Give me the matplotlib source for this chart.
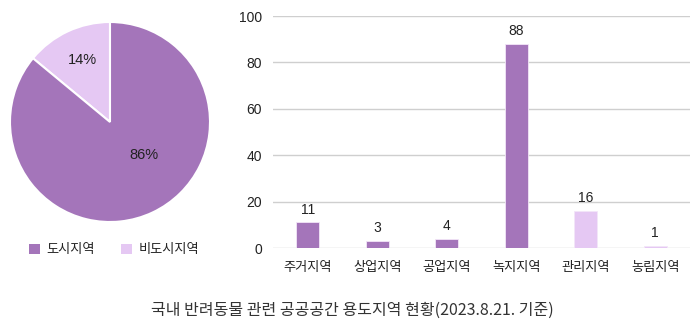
import matplotlib.pyplot as plt
from matplotlib.patches import Patch

plt.rcParams['font.family'] = ['Noto Sans CJK KR', 'DejaVu Sans']
num_font = ['Liberation Sans', 'DejaVu Sans']

# 용도지역별 공공공간 수
zones = ['주거지역', '상업지역', '공업지역', '녹지지역', '관리지역', '농림지역']
counts = [11, 3, 4, 88, 16, 1]
is_urban = [True, True, True, True, False, False]

pie_labels = ['비도시지역', '도시지역']
pie_share = [14, 86]

dark = '#A475BA'
light = '#E5C8F3'
text_color = '#222222'

fig = plt.figure(figsize=(7, 3.33), dpi=100)

# pie
ax_pie = fig.add_axes([10 / 700, 1 - 222 / 333, 200 / 700, 200 / 333])
ax_pie.pie(pie_share, colors=[light, dark], startangle=90, counterclock=True,
           wedgeprops=dict(edgecolor='white', linewidth=1.5))
ax_pie.set_xlim(-1, 1)
ax_pie.set_ylim(-1, 1)
ax_pie.set_aspect('equal')
ax_pie.text(-0.28, 0.62, f'{pie_share[0]}%', ha='center', va='center',
            fontsize=10.5, color=text_color, family=num_font)
ax_pie.text(0.34, -0.33, f'{pie_share[1]}%', ha='center', va='center',
            fontsize=10.5, color=text_color, family=num_font)

handles = [Patch(facecolor=dark, label=pie_labels[1]),
           Patch(facecolor=light, label=pie_labels[0])]
fig.legend(handles=handles, loc='center', bbox_to_anchor=(114 / 700, 1 - 250 / 333),
           ncol=2, frameon=False, fontsize=9.5, handlelength=0.8, handleheight=0.8,
           handletextpad=0.5, columnspacing=2.0, labelcolor=text_color)

# bars
ax = fig.add_axes([273 / 700, 1 - 248 / 333, 417 / 700, 232 / 333])
colors = [dark if u else light for u in is_urban]
bars = ax.bar(range(len(zones)), counts, width=0.33, color=colors,
              edgecolor='#F3E6F8', linewidth=0.6, zorder=3)
labels = ax.bar_label(bars, padding=4, fontsize=10, color=text_color)
for t in labels:
    t.set_family(num_font)
ax.set_xlim(-0.5, len(zones) - 0.5)
ax.set_ylim(0, 100)
ax.set_yticks([0, 20, 40, 60, 80, 100])
ax.set_xticks(range(len(zones)))
ax.set_xticklabels(zones)
ax.yaxis.grid(True, color='#CFCFCF', linewidth=1)
for s in ax.spines.values():
    s.set_visible(False)
ax.tick_params(axis='both', length=0, labelsize=9.5, colors=text_color)
ax.tick_params(axis='x', pad=9)
ax.tick_params(axis='y', pad=8)
for t in ax.get_yticklabels():
    t.set_family(num_font)
    t.set_fontsize(10)

fig.text(352 / 700, 1 - 310 / 333, '국내 반려동물 관련 공공공간 용도지역 현황(2023.8.21. 기준)',
         ha='center', va='center', fontsize=11.5, color='#333333')

fig.savefig('out.png', dpi=100)
